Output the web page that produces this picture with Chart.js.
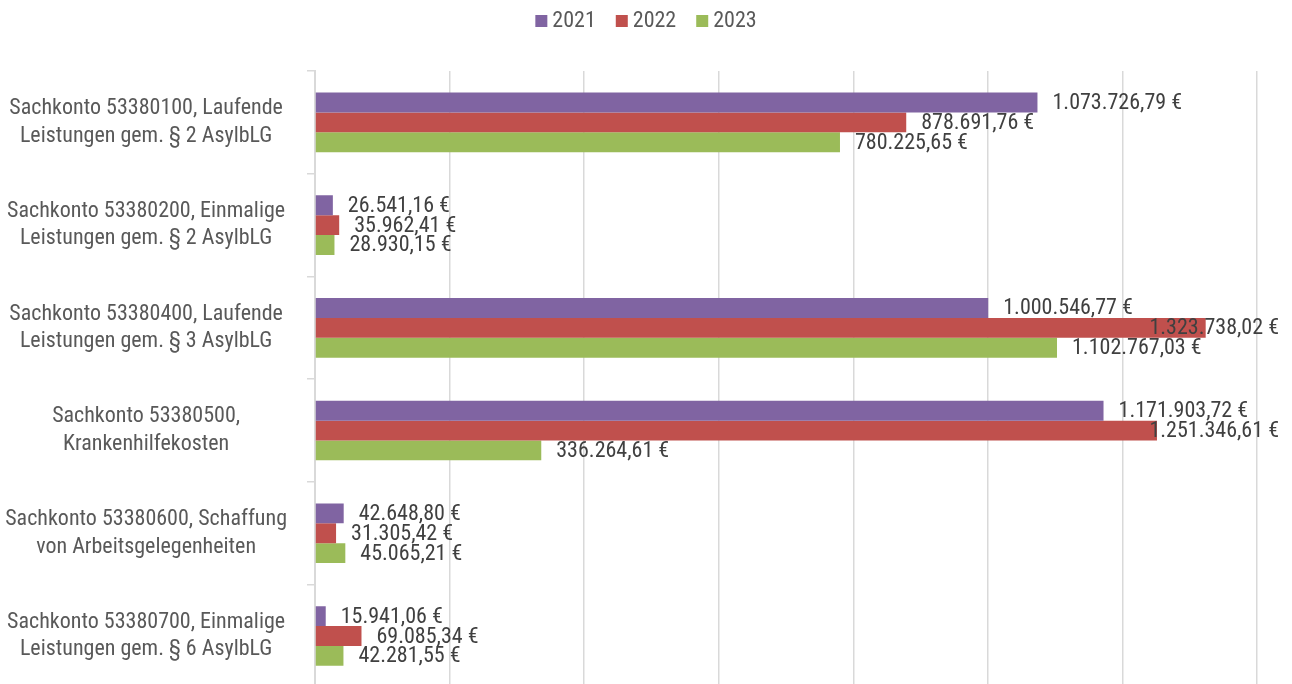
<!DOCTYPE html>
<html><head><meta charset="utf-8">
<script src="https://cdn.jsdelivr.net/npm/chart.js@4"></script>
<style>
html,body{margin:0;padding:0;overflow:hidden;background:#fff;width:1292px;height:684px}
#wrap{position:absolute;left:0;top:0;width:1292px;height:700px}
</style></head>
<body>
<div id="wrap"><canvas id="c"></canvas></div>
<script>
const categories = [
  ["Sachkonto 53380100, Laufende", "Leistungen gem. § 2 AsylbLG"],
  ["Sachkonto 53380200, Einmalige", "Leistungen gem. § 2 AsylbLG"],
  ["Sachkonto 53380400, Laufende", "Leistungen gem. § 3 AsylbLG"],
  ["Sachkonto 53380500,", "Krankenhilfekosten"],
  ["Sachkonto 53380600, Schaffung", "von Arbeitsgelegenheiten"],
  ["Sachkonto 53380700, Einmalige", "Leistungen gem. § 6 AsylbLG"]
];
const seriesNames = ["2021", "2022", "2023"];
const values2021 = [1073726.79, 26541.16, 1000546.77, 1171903.72, 42648.80, 15941.06];
const values2022 = [878691.76, 35962.41, 1323738.02, 1251346.61, 31305.42, 69085.34];
const values2023 = [780225.65, 28930.15, 1102767.03, 336264.61, 45065.21, 42281.55];
const seriesColors = ["#8064A2", "#C0504D", "#9BBB59"];
const xTicks = [0, 200000, 400000, 600000, 800000, 1000000, 1200000, 1400000];

const FONT = "'Roboto Condensed','Liberation Sans Narrow','Arial Narrow',sans-serif";

function fmt(v) {
  const fixed = v.toFixed(2);
  let [int, dec] = fixed.split(".");
  int = int.replace(/\B(?=(\d{3})+(?!\d))/g, ".");
  return int + "," + dec + " €";
}

const valueLabels = {
  id: "valueLabels",
  afterDatasetsDraw(chart) {
    const ctx = chart.ctx;
    ctx.save();
    ctx.font = "22px " + FONT;
    ctx.fillStyle = "#404040";
    ctx.textBaseline = "middle";
    ctx.textAlign = "left";
    chart.data.datasets.forEach((ds, di) => {
      const meta = chart.getDatasetMeta(di);
      meta.data.forEach((bar, i) => {
        const t = fmt(ds.data[i]);
        const w = ctx.measureText(t).width;
        let x = bar.x + 15;
        if (x + w > 1279) x = 1279 - w;
        ctx.fillText(t, x, bar.y + 1);
      });
    });
    ctx.restore();
  }
};

const customLegend = {
  id: "customLegend",
  afterDraw(chart) {
    const ctx = chart.ctx;
    ctx.save();
    ctx.font = "22px " + FONT;
    ctx.textBaseline = "middle";
    const box = 12, gap = 5, spacing = 20;
    const widths = seriesNames.map(n => box + gap + ctx.measureText(n).width);
    const total = widths.reduce((a, b) => a + b, 0) + spacing * (widths.length - 1);
    let x = chart.width / 2 - total / 2;
    seriesNames.forEach((n, i) => {
      ctx.fillStyle = seriesColors[i];
      ctx.fillRect(x, 15, box, box);
      ctx.fillStyle = "#595959";
      ctx.textAlign = "left";
      ctx.fillText(n, x + box + gap, 21);
      x += widths[i] + spacing;
    });
    ctx.restore();
  }
};

new Chart(document.getElementById("c"), {
  type: "bar",
  data: {
    labels: categories,
    datasets: [
      { label: seriesNames[0], data: values2021, backgroundColor: seriesColors[0] },
      { label: seriesNames[1], data: values2022, backgroundColor: seriesColors[1] },
      { label: seriesNames[2], data: values2023, backgroundColor: seriesColors[2] }
    ]
  },
  options: {
    indexAxis: "y",
    responsive: true,
    maintainAspectRatio: false,
    animation: false,
    layout: { padding: { top: 71, right: 35, bottom: 12.6, left: 0 } },
    datasets: { bar: { categoryPercentage: 0.58, barPercentage: 1.0 } },
    plugins: { legend: { display: false }, tooltip: { enabled: false } },
    scales: {
      x: {
        min: 0, max: 1400000,
        afterBuildTicks(scale) { scale.ticks = xTicks.map(v => ({ value: v })); },
        afterFit(scale) { scale.height = 0; scale.paddingLeft = 0; scale.paddingRight = 0; },
        ticks: { display: false },
        grid: { color: "#d9d9d9", lineWidth: 1.5, drawTicks: false },
        border: { display: false }
      },
      y: {
        afterFit(scale) { scale.width = 315; scale.paddingTop = 0; scale.paddingBottom = 0; },
        grid: { display: true, drawOnChartArea: false, drawTicks: true, tickLength: 8, offset: true, color: "#d9d9d9", lineWidth: 1.5 },
        border: { display: true, color: "#d9d9d9", width: 2 },
        ticks: { crossAlign: "center", padding: 20, color: "#595959", font: { family: FONT, size: 22, lineHeight: 1.25 } }
      }
    }
  },
  plugins: [valueLabels, customLegend]
});
</script>
</body></html>
